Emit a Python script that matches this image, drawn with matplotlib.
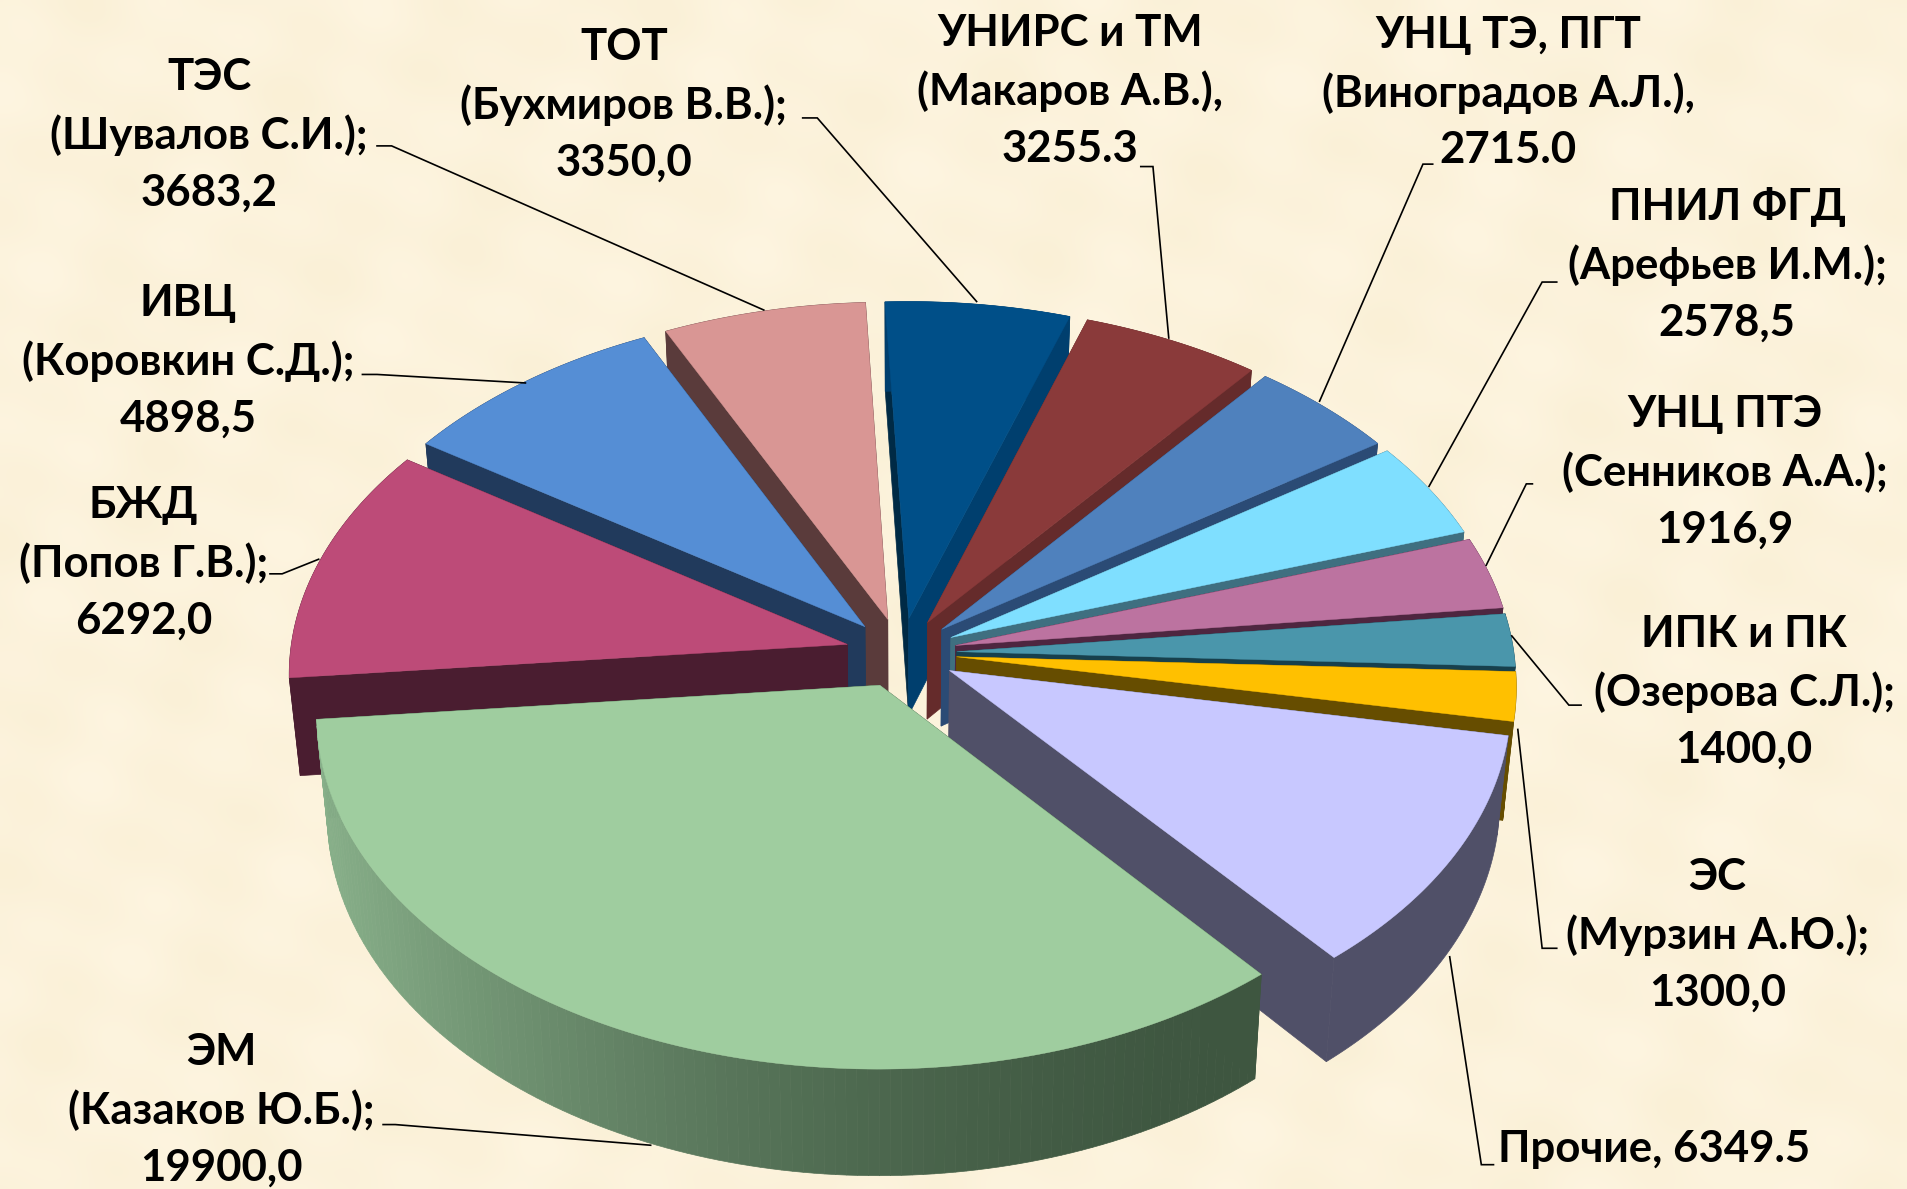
import numpy as np
import matplotlib
matplotlib.use("Agg")
import matplotlib.pyplot as plt
from matplotlib.colors import to_rgb

plt.rcParams['font.family'] = ['Lato', 'Open Sans', 'DejaVu Sans']

# clockwise, starting from 12 o'clock
names = ["ТОТ\n(Бухмиров В.В.);\n3350,0",
         "УНИРС и ТМ\n(Макаров А.В.),\n3255.3",
         "УНЦ ТЭ, ПГТ\n(Виноградов А.Л.),\n2715.0",
         "ПНИЛ ФГД\n(Арефьев И.М.);\n2578,5",
         "УНЦ ПТЭ\n(Сенников А.А.);\n1916,9",
         "ИПК и ПК\n(Озерова С.Л.);\n1400,0",
         "ЭС\n(Мурзин А.Ю.);\n1300,0",
         "Прочие, 6349.5",
         "ЭМ\n(Казаков Ю.Б.);\n19900,0",
         "БЖД\n(Попов Г.В.);\n6292,0",
         "ИВЦ\n(Коровкин С.Д.);\n4898,5",
         "ТЭС\n(Шувалов С.И.);\n3683,2"]
values = [3350.0, 3255.3, 2715.0, 2578.5, 1916.9, 1400.0, 1300.0,
          6349.5, 19900.0, 6292.0, 4898.5, 3683.2]

top_colors = ["#004F88", "#8A3A3A", "#4F81BD", "#7FDFFF", "#BC73A0", "#4A96AB",
              "#FFC000", "#C8C8FF", "#9FCD9F", "#BD4B78", "#558ED5", "#D99694"]
side_colors = ["#003F6E", "#652B2B", "#2B4B75", "#3F6F80", "#4E2640", "#17404D",
               "#664D00", "#505068", "#3E5640", "#4A1D30", "#213A5C", "#5A3B3B"]

# label centres and leader lines, in the 1568x978 working frame
label_xy = [(513, 86), (880, 75), (1240, 76), (1420, 218), (1418, 388), (1434, 569),
            (1412, 769), (1360, 945), (182, 913), (118, 463), (155, 297), (172, 111)]
leaders = [[(660, 97), (672, 97), (803, 248)],
           [(938, 137), (948, 137), (961, 278)],
           [(1178, 135), (1170, 135), (1085, 330)],
           [(1280, 232), (1268, 232), (1175, 400)],
           [(1260, 398), (1255, 398), (1222, 465)],
           [(1300, 580), (1290, 580), (1243, 523)],
           [(1280, 780), (1268, 780), (1248, 600)],
           [(1228, 958), (1218, 958), (1192, 787)],
           [(315, 925), (325, 925), (535, 942)],
           [(222, 472), (232, 472), (262, 460)],
           [(298, 308), (310, 308), (432, 315)],
           [(310, 120), (322, 120), (628, 255)]]

# pie geometry
cx, cy = 741, 537
A, B, P = 458, 286, 0.08
depth = 80
explode = 0.1
start_angle = -2.6


def project(X, Y):
    k = 1 / (1 - P * np.asarray(Y))
    return cx + A * np.asarray(X) * k, cy + B * np.asarray(Y) * k


def drop(x, y, Y):
    k = 1 / (1 - P * np.asarray(Y))
    return cx + (np.asarray(x) - cx) * 0.982, np.asarray(y) + depth * k


fig = plt.figure(figsize=(19.07, 11.89), dpi=100)
ax = fig.add_axes([0, 0, 1, 1])
ax.set_xlim(0, 1568)
ax.set_ylim(978, 0)
ax.axis("off")

# parchment background
gx, gy = np.meshgrid(np.linspace(0, 1568, 300), np.linspace(0, 978, 190))
tex = (np.sin(gx / 37 + gy / 53) * np.sin(gy / 41 - gx / 67)
       + np.sin(gx / 19 - gy / 29 + 1.3) * np.sin(gx / 83 + gy / 17 + 0.4)) / 2
c1, c2 = np.array(to_rgb("#FAF0D6")), np.array(to_rgb("#FEF5E1"))
bg = c1 + (c2 - c1) * (tex[..., None] * 0.5 + 0.5)
ax.imshow(bg, extent=(0, 1568, 978, 0), aspect="auto", interpolation="bicubic", zorder=0)

vals = np.array(values)
edges = np.radians(np.concatenate([[0], np.cumsum(vals)]) / vals.sum() * 360 + start_angle)
mids = (edges[:-1] + edges[1:]) / 2

# paint far slices first
order = sorted(range(len(vals)), key=lambda i: -np.cos(mids[i]))
z = 2
for i in order:
    ox, oy = explode * np.sin(mids[i]), -explode * np.cos(mids[i])
    t = np.linspace(edges[i], edges[i + 1], 120)
    X, Y = ox + np.sin(t), oy - np.cos(t)
    x, y = project(X, Y)
    hx, hy = project(ox, oy)
    xb, yb = drop(x, y, Y)
    hxb, hyb = drop(hx, hy, oy)
    side = side_colors[i]
    first_wall = "#002A45" if i == 0 else side
    # radial walls
    ax.fill([hx, x[0], xb[0], hxb], [hy, y[0], yb[0], hyb], fc=first_wall, ec=first_wall, lw=0.5, zorder=z)
    z += 1
    ax.fill([hx, x[-1], xb[-1], hxb], [hy, y[-1], yb[-1], hyb], fc=side, ec=side, lw=0.5, zorder=z)
    z += 1
    # outer wall, the big slice has a shaded one
    if i == 8:
        light, dark = np.array(to_rgb("#88B08A")), np.array(to_rgb("#3E5640"))
        for j in range(len(t) - 1):
            f = np.clip((x[j] - x.min()) / (x.max() - x.min()), 0, 1)
            col = dark + (light - dark) * (1 - f) ** 1.8
            ax.fill([x[j], x[j + 1], xb[j + 1], xb[j]], [y[j], y[j + 1], yb[j + 1], yb[j]],
                    fc=col, ec=col, lw=0.5, zorder=z)
    else:
        ax.fill(np.r_[x, xb[::-1]], np.r_[y, yb[::-1]], fc=side, ec=side, lw=0.5, zorder=z)
    z += 1
    ax.fill(np.r_[hx, x], np.r_[hy, y], fc=top_colors[i], ec=top_colors[i], lw=0.3, zorder=z)
    z += 1

for line in leaders:
    px, py = zip(*line)
    ax.plot(px, py, color="black", lw=1.2, zorder=z, solid_joinstyle="miter")

for name, (lx, ly) in zip(names, label_xy):
    ax.text(lx, ly, name, ha="center", va="center", fontsize=31.5, fontweight="bold",
            linespacing=1.5, color="black", zorder=z + 1)

fig.savefig("out.png", dpi=100)
